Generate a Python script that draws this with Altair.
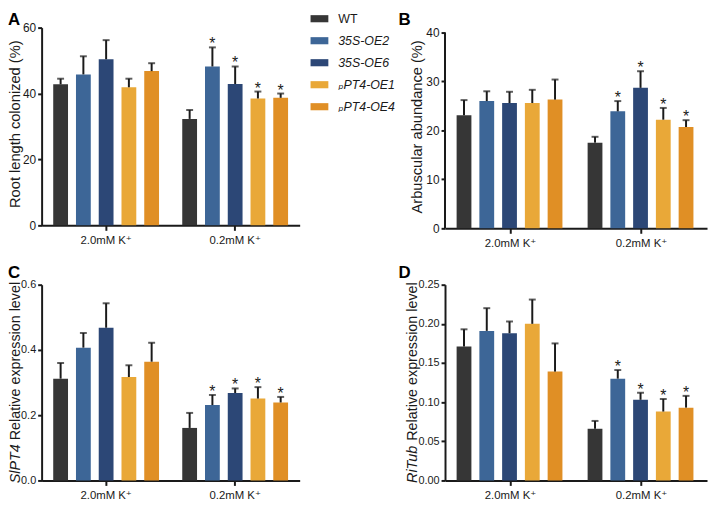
import altair as alt
import pandas as pd

FONT = "Liberation Sans, Arial, DejaVu Sans, sans-serif"
INK = "#1a1a1a"

genotypes = ["WT", "35S-OE2", "35S-OE6", "ₚPT4-OE1", "ₚPT4-OE4"]
conditions = ["2.0mM K⁺", "0.2mM K⁺"]
colors = ["#363636", "#3d6697", "#2c4776", "#e9a838", "#e08f25"]
stars = ["", "", "", "", "", "", "*", "*", "*", "*"]

# Panel A: root length colonized (%)
a_mean = [42.8, 45.8, 50.4, 41.9, 46.8, 32.3, 48.2, 42.9, 38.5, 38.7]
a_sd = [1.7, 5.5, 5.8, 2.6, 2.4, 2.7, 5.8, 5.3, 2.1, 1.3]
# Panel B: arbuscular abundance (%)
b_mean = [23.1, 26.0, 25.6, 25.6, 26.3, 17.5, 23.9, 28.7, 22.2, 20.7]
b_sd = [3.1, 2.0, 2.3, 2.7, 4.1, 1.2, 2.1, 3.4, 2.4, 1.4]
# Panel C: SlPT4 relative expression
c_mean = [0.312, 0.407, 0.468, 0.317, 0.364, 0.161, 0.231, 0.268, 0.251, 0.239]
c_sd = [0.048, 0.045, 0.075, 0.036, 0.058, 0.046, 0.031, 0.014, 0.035, 0.017]
# Panel D: RiTub relative expression
d_mean = [0.171, 0.191, 0.188, 0.200, 0.139, 0.066, 0.130, 0.103, 0.088, 0.093]
d_sd = [0.022, 0.029, 0.015, 0.031, 0.036, 0.010, 0.011, 0.009, 0.016, 0.015]


def make_df(mean, sd):
    rows = []
    for i, (m, s) in enumerate(zip(mean, sd)):
        rows.append(dict(cond=conditions[i // 5], geno=genotypes[i % 5],
                         mean=m, top=m + s, star=stars[i]))
    return pd.DataFrame(rows)


def text_width(s, size):
    w = {" ": 278, "R": 722, "e": 556, "l": 222, "a": 556, "t": 278, "i": 222,
         "v": 500, "x": 500, "p": 556, "r": 333, "s": 500, "o": 556, "n": 556,
         "S": 667, "P": 667, "T": 611, "4": 556, "u": 556, "b": 556}
    return sum(w.get(ch, 556) for ch in s) * size / 1000.0


def panel(mean, sd, width, height, domain, ticks, fmt, title_it, title_rest,
          letter, letter_x, letter_y, title_x, axis_top=None, tsize=14.5,
          lsize=12, anchor=False, tcenter_shift=0):
    df = make_df(mean, sd)
    base = alt.Chart(df)
    x = alt.X("cond:N", sort=conditions,
              scale=alt.Scale(paddingInner=0, paddingOuter=0),
              axis=alt.Axis(title=None, labelAngle=0, bandPosition=0.5, tickSize=5,
                            tickWidth=2, tickColor=INK, domainColor=INK, domainWidth=2,
                            labelFontSize=11.5, labelPadding=4, labelColor=INK,
                            labelFont=FONT, grid=False))
    xo = alt.XOffset("geno:N", sort=genotypes,
                     scale=alt.Scale(paddingInner=0.35, paddingOuter=0.51))
    yscale = alt.Scale(domain=domain, nice=False, zero=True)
    yaxis = alt.Axis(title=None, values=ticks, format=fmt, grid=False,
                     domain=axis_top is None, domainColor=INK, domainWidth=2,
                     tickColor=INK, tickWidth=2, tickSize=4, labelFontSize=lsize,
                     labelPadding=2, labelColor=INK, labelFont=FONT)
    bars = base.mark_bar().encode(
        x=x, xOffset=xo,
        y=alt.Y("mean:Q", scale=yscale, axis=yaxis),
        color=alt.Color("geno:N", sort=genotypes,
                        scale=alt.Scale(domain=genotypes, range=colors), legend=None))
    err = base.mark_rule(color=INK, strokeWidth=2).encode(
        x=x, xOffset=xo, y=alt.Y("mean:Q", scale=yscale, axis=yaxis), y2="top:Q")
    cap = base.mark_tick(color=INK, thickness=2, size=7, orient="horizontal").encode(
        x=x, xOffset=xo, y=alt.Y("top:Q", scale=yscale, axis=yaxis))
    star = base.mark_text(fontSize=16, font=FONT, color=INK, baseline="alphabetic",
                          dy=2).encode(
        x=x, xOffset=xo, y=alt.Y("top:Q", scale=yscale, axis=yaxis), text="star:N")
    layers = [bars, err, cap, star]

    one = pd.DataFrame({"k": [0]})
    if axis_top is not None:
        layers.append(alt.Chart(one).mark_rule(color=INK, strokeWidth=2).encode(
            x=alt.value(0), y=alt.datum(0), y2=alt.datum(axis_top)))

    # y-axis title (possibly with an italic gene name)
    w_it = text_width(title_it + " ", tsize) if title_it else 0
    w_total = w_it + text_width(title_rest, tsize)
    center = height / 2 + tcenter_shift
    start = center + w_total / 2
    if title_it:
        layers.append(alt.Chart(pd.DataFrame({"t": [title_it]})).mark_text(
            angle=270, align="left", baseline="alphabetic", fontSize=tsize,
            fontStyle="italic", font=FONT, color=INK).encode(
            x=alt.value(title_x), y=alt.value(start), text="t:N"))
    layers.append(alt.Chart(pd.DataFrame({"t": [title_rest]})).mark_text(
        angle=270, align="left", baseline="alphabetic", fontSize=tsize,
        font=FONT, color=INK).encode(
        x=alt.value(title_x), y=alt.value(start - w_it), text="t:N"))

    # panel letter
    layers.append(alt.Chart(pd.DataFrame({"t": [letter]})).mark_text(
        align="left", baseline="alphabetic", fontSize=17, fontWeight="bold",
        font=FONT, color="#000000").encode(
        x=alt.value(letter_x), y=alt.value(letter_y), text="t:N"))

    if anchor:
        layers.append(alt.Chart(one).mark_rect(opacity=0).encode(
            x=alt.value(-34), x2=alt.value(-33), y=alt.value(-17), y2=alt.value(-16)))

    return alt.layer(*layers).properties(width=width, height=height)


A = panel(a_mean, a_sd, 261, 200, [0, 60], [0, 20, 40, 60], "d", "",
          "Root length colonized (%)", "A", -34, -3, -21.4, tsize=14.8,
          anchor=True, tcenter_shift=-4)
B = panel(b_mean, b_sd, 265, 203, [0, 41.01], [0, 10, 20, 30, 40], "d", "",
          "Arbuscular abundance (%)", "B", -47, -3, -23, axis_top=40, tsize=14.8,
          tcenter_shift=-2)
C = panel(c_mean, c_sd, 261, 198, [0, 0.6], [0, 0.2, 0.4, 0.6], ".1f", "SlPT4",
          "Relative expression level", "C", -34, -7, -21.4, lsize=11)
D = panel(d_mean, d_sd, 265, 198, [0, 0.25], [0, 0.05, 0.10, 0.15, 0.20, 0.25], ".2f",
          "RiTub", "Relative expression level", "D", -47, -7, -28.5, lsize=11)

# legend
leg_df = pd.DataFrame({"geno": genotypes})
ly = alt.Y("geno:N", sort=genotypes,
           scale=alt.Scale(type="point", range=[-9, 80], padding=0), axis=None)
swatch = alt.Chart(leg_df).mark_point(
    shape="M-1,-0.4H1V0.4H-1Z", filled=True, size=324, opacity=1, strokeWidth=0).encode(
    x=alt.value(12), y=ly,
    color=alt.Color("geno:N", sort=genotypes,
                    scale=alt.Scale(domain=genotypes, range=colors), legend=None))
lt1 = alt.Chart(leg_df).transform_filter(alt.datum.geno == "WT").mark_text(
    align="left", baseline="middle", fontSize=12.5, font=FONT, color=INK).encode(
    x=alt.value(31), y=ly, text="geno:N")
lt2 = alt.Chart(leg_df).transform_filter(alt.datum.geno != "WT").mark_text(
    align="left", baseline="middle", fontSize=12.5, font=FONT, fontStyle="italic",
    color=INK).encode(x=alt.value(31), y=ly, text="geno:N")
legend = alt.layer(swatch, lt1, lt2).properties(width=131, height=80)

spacer = alt.Chart(pd.DataFrame({"v": [0]})).mark_point(opacity=0).encode(
    x=alt.value(0), y=alt.value(0)).properties(width=131, height=10)

chart = alt.concat(A, legend, B, C, spacer, D, columns=3,
                   spacing={"row": 57, "column": 8}, bounds="flush").properties(
    padding={"left": 0, "top": 0, "right": 2, "bottom": 2}
).configure_view(stroke=None)

chart.save("out.html", embed_options={"renderer": "svg", "actions": False})
